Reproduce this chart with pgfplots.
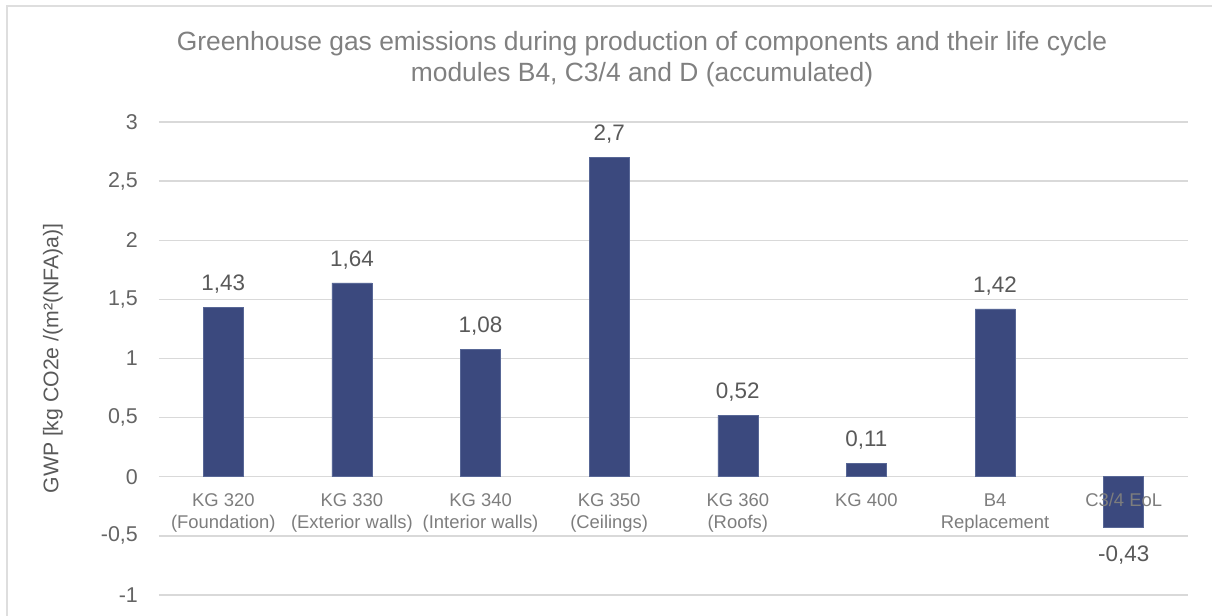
\documentclass[border=0pt]{standalone}
\usepackage{pgfplots}
\pgfplotsset{compat=1.18}
\usepackage{pgfplotstable}
\usepackage{fontspec}
\setmainfont{Liberation Sans}
\definecolor{barblue}{RGB}{59,73,126}
\definecolor{baredge}{RGB}{88,103,150}
\definecolor{gridgray}{RGB}{217,217,217}
\definecolor{titlegray}{RGB}{128,128,128}
\definecolor{tickgray}{RGB}{100,100,100}
\definecolor{valgray}{RGB}{89,89,89}
\definecolor{catgray}{RGB}{125,125,125}
\definecolor{framegray}{RGB}{222,222,222}
\tikzset{catlabel/.style={anchor=north, inner sep=0pt, yshift=-16.5bp, align=center,
     font=\fontsize{18.5}{22}\selectfont, text=catgray}}

\pgfplotstableread{
x y label
0 1.43 1,43
1 1.64 1,64
2 1.08 1,08
3 2.70 2,7
4 0.52 0,52
5 0.11 0,11
6 1.42 1,42
}\datapos
\pgfplotstableread{
x y label
7 -0.43 -0,43
}\dataneg

\begin{document}
\begin{tikzpicture}
\path[use as bounding box] (-159bp,-21bp) rectangle (1053bp,595bp);
\draw[framegray, line width=2bp] (-152bp,-21bp) -- (-152bp,589bp) -- (1053bp,589bp);
\begin{axis}[
  scale only axis, width=1029bp, height=473bp,
  xmin=-0.5, xmax=7.5, ymin=-1, ymax=3,
  ytick={-1,-0.5,0,0.5,1,1.5,2,2.5,3},
  yticklabels={-1,{-0,5},0,{0,5},1,{1,5},2,{2,5},3},
  xtick=\empty,
  ymajorgrids, grid style={gridgray, line width=1.3bp},
  axis line style={draw=none},
  major tick length=0pt,
  yticklabel style={font=\fontsize{21.5}{25}\selectfont, text=tickgray, inner sep=0pt, anchor=east, xshift=-21bp},
  clip=false,
  ybar, bar width=40bp,
]
\addplot[fill=barblue, draw=baredge, line width=0.6bp, bar shift=0pt,
  nodes near coords, point meta=explicit symbolic,
  every node near coord/.style={anchor=south, inner sep=0pt, yshift=13.6bp,
     font=\fontsize{22.5}{26}\selectfont, text=valgray}]
  table[x=x, y=y, meta=label] {\datapos};
\addplot[fill=barblue, draw=baredge, line width=0.6bp, bar shift=0pt,
  nodes near coords, point meta=explicit symbolic,
  every node near coord/.style={anchor=north, inner sep=0pt, yshift=-18bp,
     font=\fontsize{22.5}{26}\selectfont, text=valgray}]
  table[x=x, y=y, meta=label] {\dataneg};
\node[catlabel] at (axis cs:0,0) {KG 320\\(Foundation)};
\node[catlabel] at (axis cs:1,0) {KG 330\\(Exterior walls)};
\node[catlabel] at (axis cs:2,0) {KG 340\\(Interior walls)};
\node[catlabel] at (axis cs:3,0) {KG 350\\(Ceilings)};
\node[catlabel] at (axis cs:4,0) {KG 360\\(Roofs)};
\node[catlabel] at (axis cs:5,0) {KG 400};
\node[catlabel] at (axis cs:6,0) {B4\\Replacement};
\node[catlabel] at (axis cs:7,0) {C3/4 EoL};
\end{axis}
\node[font=\fontsize{26.5}{31}\selectfont, text=titlegray, align=center] at (483bp,535.5bp)
  {Greenhouse gas emissions during production of components and their life cycle\\modules B4, C3/4 and D (accumulated)};
\node[rotate=90, font=\fontsize{21.3}{25}\selectfont, text=valgray] at (-106bp,236.5bp)
  {GWP [kg CO2e /(m²(NFA)a)]};
\end{tikzpicture}
\end{document}
